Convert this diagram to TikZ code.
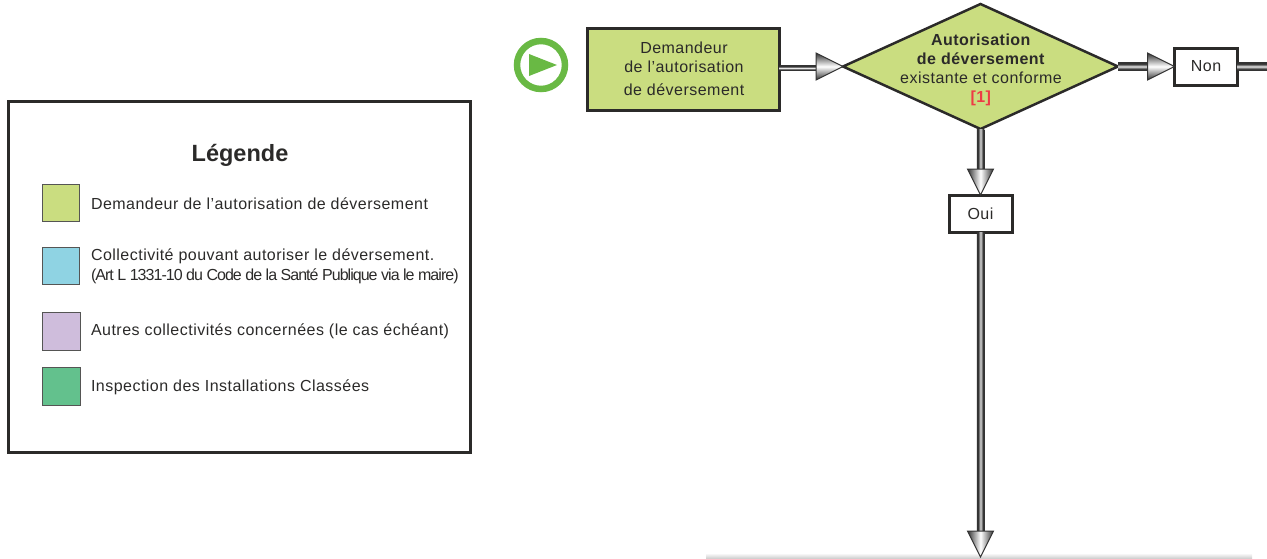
\documentclass[tikz,border=0pt]{standalone}
\usepackage{fontspec}
\setmainfont[LetterSpace=3]{Liberation Sans}
\newfontfamily\tightfont[LetterSpace=-6]{Liberation Sans}
\newfontfamily\titlefont{Liberation Sans}
\usetikzlibrary{calc,shapes.geometric}
\definecolor{inkc}{HTML}{2B2A29}
\definecolor{demc}{HTML}{CADD80}
\definecolor{colc}{HTML}{8FD3E3}
\definecolor{autc}{HTML}{CFBDDC}
\definecolor{insc}{HTML}{63C18D}
\definecolor{goc}{HTML}{69B944}
\definecolor{redc}{HTML}{EE3B45}
\definecolor{pipec}{HTML}{333333}
\pgfdeclareverticalshading{pipeh}{100bp}{color(0bp)=(pipec); color(33bp)=(pipec); color(44bp)=(black!40); color(50bp)=(black!5); color(56bp)=(black!40); color(67bp)=(pipec); color(100bp)=(pipec)}
\pgfdeclarehorizontalshading{pipev}{100bp}{color(0bp)=(pipec); color(33bp)=(pipec); color(44bp)=(black!40); color(50bp)=(black!15); color(56bp)=(black!40); color(67bp)=(pipec); color(100bp)=(pipec)}
\tikzset{
  every node/.style={text=inkc,font=\fontsize{16}{19}\selectfont,outer sep=0pt},
  flowbox/.style={draw=inkc,line width=3pt,inner sep=0pt,align=center},
  swatch/.style={draw=inkc!80,line width=1pt,anchor=north west,inner sep=0pt},
  legtext/.style={anchor=base west,inner sep=0pt},
  hhead/.style={top color=pipec,bottom color=pipec,middle color=white},
  vhead/.style={left color=pipec,right color=pipec,middle color=white},
  headline/.style={draw=pipec,line width=1pt,line join=miter}
}
\newcommand{\hconn}[2]{%
  \path[shading=pipeh] ($(#1)+(0,-4)$) rectangle ($(#2)+(-26,4)$);
  \path[hhead,headline] ($(#2)+(-27,-13.5)$) -- (#2) -- ($(#2)+(-27,13.5)$) -- cycle;}
\newcommand{\vconn}[2]{%
  \path[shading=pipev] ($(#1)+(-3.75,0)$) rectangle ($(#2)+(3.75,-26)$);
  \path[vhead,headline] ($(#2)+(-13,-26)$) -- (#2) -- ($(#2)+(13,-26)$) -- cycle;}
\begin{document}
\begin{tikzpicture}[x=1pt,y=-1pt]
\useasboundingbox (0,0) rectangle (1267,558);
% bottom edge of the next panel
\shade[top color=white,bottom color=black!18] (706,553) rectangle (1252,558);
% legend
\node[draw=inkc,line width=3pt,minimum width=462pt,minimum height=351pt,inner sep=0pt,anchor=north west] (legend) at (8.5,101.5) {};
\node[anchor=base,inner sep=0pt,font=\fontsize{23.5}{26}\titlefont\bfseries] (legtitle) at (240,161) {Légende};
\node[swatch,fill=demc,minimum width=37pt,minimum height=37pt] (s1) at (42.5,184.5) {};
\node[swatch,fill=colc,minimum width=37pt,minimum height=37pt] (s2) at (42.5,247.5) {};
\node[swatch,fill=autc,minimum width=38pt,minimum height=38pt] (s3) at (42.5,312.5) {};
\node[swatch,fill=insc,minimum width=38pt,minimum height=38pt] (s4) at (42.5,367.5) {};
\node[legtext] (t1) at (91,209) {Demandeur de l’autorisation de déversement};
\node[legtext] (t2) at (91,260) {Collectivité pouvant autoriser le déversement.};
\node[legtext,font=\fontsize{16}{19}\tightfont] (t2b) at (91,280) {(Art L 1331-10 du Code de la Santé Publique via le maire)};
\node[legtext] (t3) at (91,335) {Autres collectivités concernées (le cas échéant)};
\node[legtext] (t4) at (91,391) {Inspection des Installations Classées};
% start icon
\node[circle,draw=goc,line width=6.5pt,minimum size=48pt,inner sep=0pt] (start) at (541,65) {};
\fill[goc] (529,54) -- (557,65) -- (529,76) -- cycle;
% flow nodes
\node[flowbox,fill=demc,minimum width=192pt,minimum height=82pt] (dem) at (683.5,69.5) {};
\node[anchor=base,inner sep=0pt,align=center] (demt) at (684,95) {Demandeur\\de l’autorisation\\[4pt]de déversement};
\node[diamond,draw=inkc,line width=2.5pt,fill=demc,aspect=2.2,minimum width=275pt,minimum height=125pt,inner sep=0pt] (dia) at (980.5,66.5) {};
\node[anchor=base,inner sep=0pt,align=center] (diat) at (981,102) {\textbf{Autorisation}\\\textbf{de déversement}\\existante et conforme\\\textcolor{redc}{\textbf{[1]}}};
\node[flowbox,fill=white,minimum width=63pt,minimum height=37pt] (non) at (1206,66.5) {Non};
\node[flowbox,fill=white,minimum width=63pt,minimum height=37pt] (oui) at (980.5,213.5) {Oui};
\coordinate (exit) at (1267,66.5);
\coordinate (next) at (980.5,557);
% connectors
\hconn{dem.east}{dia.west}
\hconn{dia.east}{non.west}
\vconn{dia.south}{oui.north}
\vconn{oui.south}{next}
\path[shading=pipeh] ($(non.east)+(0,-4)$) rectangle ($(exit)+(0,4)$);
\end{tikzpicture}
\end{document}
